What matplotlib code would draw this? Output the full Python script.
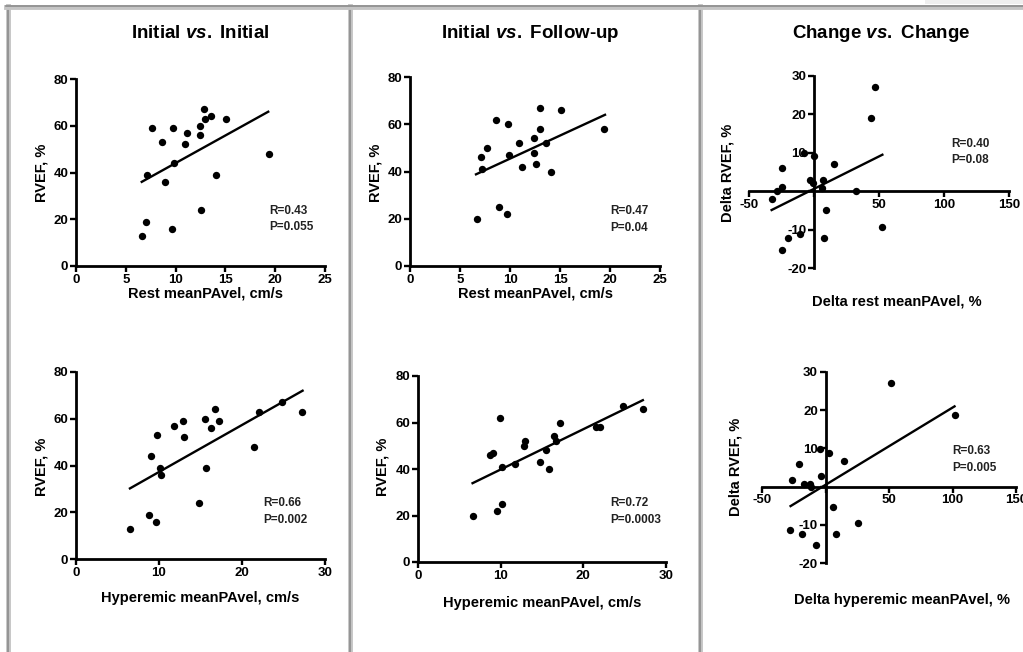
import matplotlib
matplotlib.use("Agg")
import matplotlib.pyplot as plt
from matplotlib.lines import Line2D
from matplotlib.patches import Rectangle
import numpy as np

plt.rcParams['font.family'] = ['Liberation Sans', 'DejaVu Sans']
plt.rcParams['font.weight'] = 'bold'
plt.rcParams['mathtext.fontset'] = 'custom'
plt.rcParams['mathtext.it'] = 'Liberation Sans:bold:italic'
plt.rcParams['mathtext.rm'] = 'Liberation Sans:bold'

W, H = 1023, 652

# Datos
# Fila 1: reposo
rest_ini_x = [6.6, 7.0, 7.1, 7.6, 8.6, 8.9, 9.6, 9.7, 9.8, 10.9, 11.1, 12.4, 12.4, 12.5, 12.9, 13.0, 13.6, 14.1, 15.1, 19.4]
rest_ini_y = [13, 19, 39, 59, 53, 36, 16, 59, 44, 52, 57, 60, 56, 24, 67, 63, 64, 39, 63, 48]
rest_ini_fit_x = [6.6, 19.3]
rest_ini_fit_y = [36.0, 66.0]

rest_fu_x = [6.7, 7.1, 7.2, 7.7, 8.6, 8.9, 9.7, 9.8, 9.9, 10.9, 11.2, 12.4, 12.4, 12.6, 13.0, 13.0, 13.6, 14.1, 15.1, 19.4]
rest_fu_y = [20, 46, 41, 50, 62, 25, 22, 60, 47, 52, 42, 54, 48, 43, 67, 58, 52, 40, 66, 58]
rest_fu_fit_x = [6.6, 19.5]
rest_fu_fit_y = [38.8, 64.0]

delta_rest_x = [46.7, 43.6, 52.1, 32.6, 15.1, 6.9, 5.9, 0.0, -7.9, -3.3, -0.8, 9.5, 7.7, -24.6, -24.6, -28.2, -32.6, -19.7, -11.0, -24.4]
delta_rest_y = [27.1, 19.1, -9.2, 0.0, 7.1, 3.0, 0.9, 9.1, 10.0, 3.0, 2.1, -5.0, -12.2, 6.0, 1.0, 0.0, -2.1, -12.2, -11.1, -15.2]
delta_rest_fit_x = [-32.6, 52.6]
delta_rest_fit_y = [-4.9, 9.5]

# Fila 2: hiperemia
hyp_ini_x = [6.5, 8.8, 9.0, 9.6, 9.8, 10.1, 10.2, 11.8, 12.9, 13.0, 14.8, 15.5, 15.7, 16.3, 16.7, 17.2, 21.5, 22.0, 24.8, 27.2]
hyp_ini_y = [13, 19, 44, 16, 53, 39, 36, 57, 59, 52, 24, 60, 39, 56, 64, 59, 48, 63, 67, 63]
hyp_ini_fit_x = [6.5, 27.3]
hyp_ini_fit_y = [30.2, 72.0]

hyp_fu_x = [6.6, 9.5, 9.9, 8.7, 9.1, 10.2, 10.2, 11.7, 12.8, 12.9, 14.8, 15.5, 15.8, 16.4, 16.7, 17.2, 21.5, 22.0, 24.8, 27.2]
hyp_fu_y = [20, 22, 62, 46, 47, 25, 41, 42, 50, 52, 43, 48, 40, 54, 52, 60, 58, 58, 67, 66]
hyp_fu_fit_x = [6.6, 27.2]
hyp_fu_fit_y = [33.9, 69.6]

delta_hyp_x = [51.8, 101.6, 3.1, 14.9, -20.7, -26.7, -17.0, -12.3, -11.8, -3.9, -4.7, 6.0, 25.9, 8.6, -7.1, -18.3, -28.0]
delta_hyp_y = [27.1, 18.8, 8.8, 6.7, 5.8, 1.8, 0.6, 0.6, -0.2, 2.8, 9.8, -5.4, -9.4, -12.4, -15.4, -12.4, -11.4]
delta_hyp_fit_x = [-27.5, 101.6]
delta_hyp_fit_y = [-5.1, 21.0]

titulos = ["Initial $\\it{vs.}$ Initial", "Initial $\\it{vs.}$ Follow-up", "Change $\\it{vs.}$ Change"]


def caja(x0, x1, y0, y1):
    # pixeles -> fraccion de figura
    return [x0 / W, 1 - y1 / H, (x1 - x0) / W, (y1 - y0) / H]


def a_ejes(b, px, py):
    return (px / W - b[0]) / b[2], ((1 - py / H) - b[1]) / b[3]


def panel(b, x, y, fx, fy, xlim, ylim, xt, yt, xlab, ylab, xl_pos, yl_pos, r_txt, p_txt, txt_xy, cero=False):
    ax = fig.add_axes(b)
    ax.scatter(x, y, s=28, c='black', zorder=3, linewidths=0)
    ax.plot(fx, fy, c='black', lw=1.7)
    ax.set_xlim(xlim)
    ax.set_ylim(ylim)
    ax.set_xticks(xt)
    ax.set_yticks(yt)
    ax.spines['top'].set_visible(False)
    ax.spines['right'].set_visible(False)
    for s in ['left', 'bottom']:
        ax.spines[s].set_linewidth(2)
    if cero:
        ax.spines['left'].set_position(('data', 0))
        ax.spines['bottom'].set_position(('data', 0))
        ax.set_xticklabels([str(v) if v != 0 else '' for v in xt])
        ax.set_yticklabels([str(v) if v != 0 else '' for v in yt])
    ax.tick_params(direction='out', length=4, width=1.7, labelsize=9.5, pad=1.5)
    for lab in ax.get_xticklabels() + ax.get_yticklabels():
        lab.set_fontweight('bold')
    ax.patch.set_alpha(0)
    ax.set_xlabel(xlab, fontsize=10.5, fontweight='bold')
    ax.set_ylabel(ylab, fontsize=10.5, fontweight='bold')
    ax.xaxis.set_label_coords(*a_ejes(b, *xl_pos))
    ax.yaxis.set_label_coords(*a_ejes(b, *yl_pos))
    ax.xaxis.label.set_va('center')
    ax.yaxis.label.set_va('center')
    ax.text(txt_xy[0], txt_xy[1], r_txt + "\n" + p_txt, fontsize=8.5, fontweight='bold',
            va='center', ha='left', linespacing=1.5, color='#222222')
    return ax


fig = plt.figure(figsize=(W / 100, H / 100), dpi=100)

panel(caja(76, 325, 79, 266), rest_ini_x, rest_ini_y, rest_ini_fit_x, rest_ini_fit_y,
      (0, 25), (0, 80), [0, 5, 10, 15, 20, 25], [0, 20, 40, 60, 80],
      "Rest meanPAvel, cm/s", "RVEF, %", (205, 293), (42, 173), "R=0.43", "P=0.055", (19.4, 20))
panel(caja(410, 660, 77, 266), rest_fu_x, rest_fu_y, rest_fu_fit_x, rest_fu_fit_y,
      (0, 25), (0, 80), [0, 5, 10, 15, 20, 25], [0, 20, 40, 60, 80],
      "Rest meanPAvel, cm/s", "RVEF, %", (535, 293), (375, 173), "R=0.47", "P=0.04", (20.0, 19.7))
panel(caja(749, 1009, 76, 268), delta_rest_x, delta_rest_y, delta_rest_fit_x, delta_rest_fit_y,
      (-50, 150), (-20, 30), [-50, 0, 50, 100, 150], [-20, -10, 0, 10, 20, 30],
      "Delta rest meanPAvel, %", "Delta RVEF, %", (897, 302), (728, 173), "R=0.40", "P=0.08", (105.6, 10.2),
      cero=True)
panel(caja(76, 325, 372, 559), hyp_ini_x, hyp_ini_y, hyp_ini_fit_x, hyp_ini_fit_y,
      (0, 30), (0, 80), [0, 10, 20, 30], [0, 20, 40, 60, 80],
      "Hyperemic meanPAvel, cm/s", "RVEF, %", (200, 598), (42, 467), "R=0.66", "P=0.002", (22.6, 20.4))
panel(caja(418, 666, 376, 562), hyp_fu_x, hyp_fu_y, hyp_fu_fit_x, hyp_fu_fit_y,
      (0, 30), (0, 80), [0, 10, 20, 30], [0, 20, 40, 60, 80],
      "Hyperemic meanPAvel, cm/s", "RVEF, %", (542, 603), (383, 467), "R=0.72", "P=0.0003", (23.2, 21.7))
panel(caja(762, 1016, 372, 563), delta_hyp_x, delta_hyp_y, delta_hyp_fit_x, delta_hyp_fit_y,
      (-50, 150), (-20, 30), [-50, 0, 50, 100, 150], [-20, -10, 0, 10, 20, 30],
      "Delta hyperemic meanPAvel, %", "Delta RVEF, %", (902, 600), (735, 467), "R=0.63", "P=0.005", (99.5, 7.1),
      cero=True)

for cx, t in zip([200, 530, 881], titulos):
    fig.text(cx / W, 1 - 33 / H, t, ha='center', va='center', fontsize=13.5, fontweight='bold')

# Marcos grises entre paneles
tr = fig.transFigure
for xp in [8, 349.5, 699.5]:
    fig.add_artist(Line2D([xp / W, xp / W], [0, 1 - 6 / H], transform=tr, color='#c4c4c4', lw=3.5))
    fig.add_artist(Line2D([xp / W, xp / W], [0, 1 - 6 / H], transform=tr, color='#8c8c8c', lw=1.2))
fig.add_artist(Line2D([6 / W, 1], [1 - 6.5 / H, 1 - 6.5 / H], transform=tr, color='#c4c4c4', lw=3.5))
fig.add_artist(Line2D([6 / W, 1], [1 - 6 / H, 1 - 6 / H], transform=tr, color='#8c8c8c', lw=1.2))
fig.add_artist(Rectangle((925 / W, 1 - 4 / H), 98 / W, 4 / H, transform=tr, color='#efefef', lw=0))

fig.savefig("out.png", dpi=100)
